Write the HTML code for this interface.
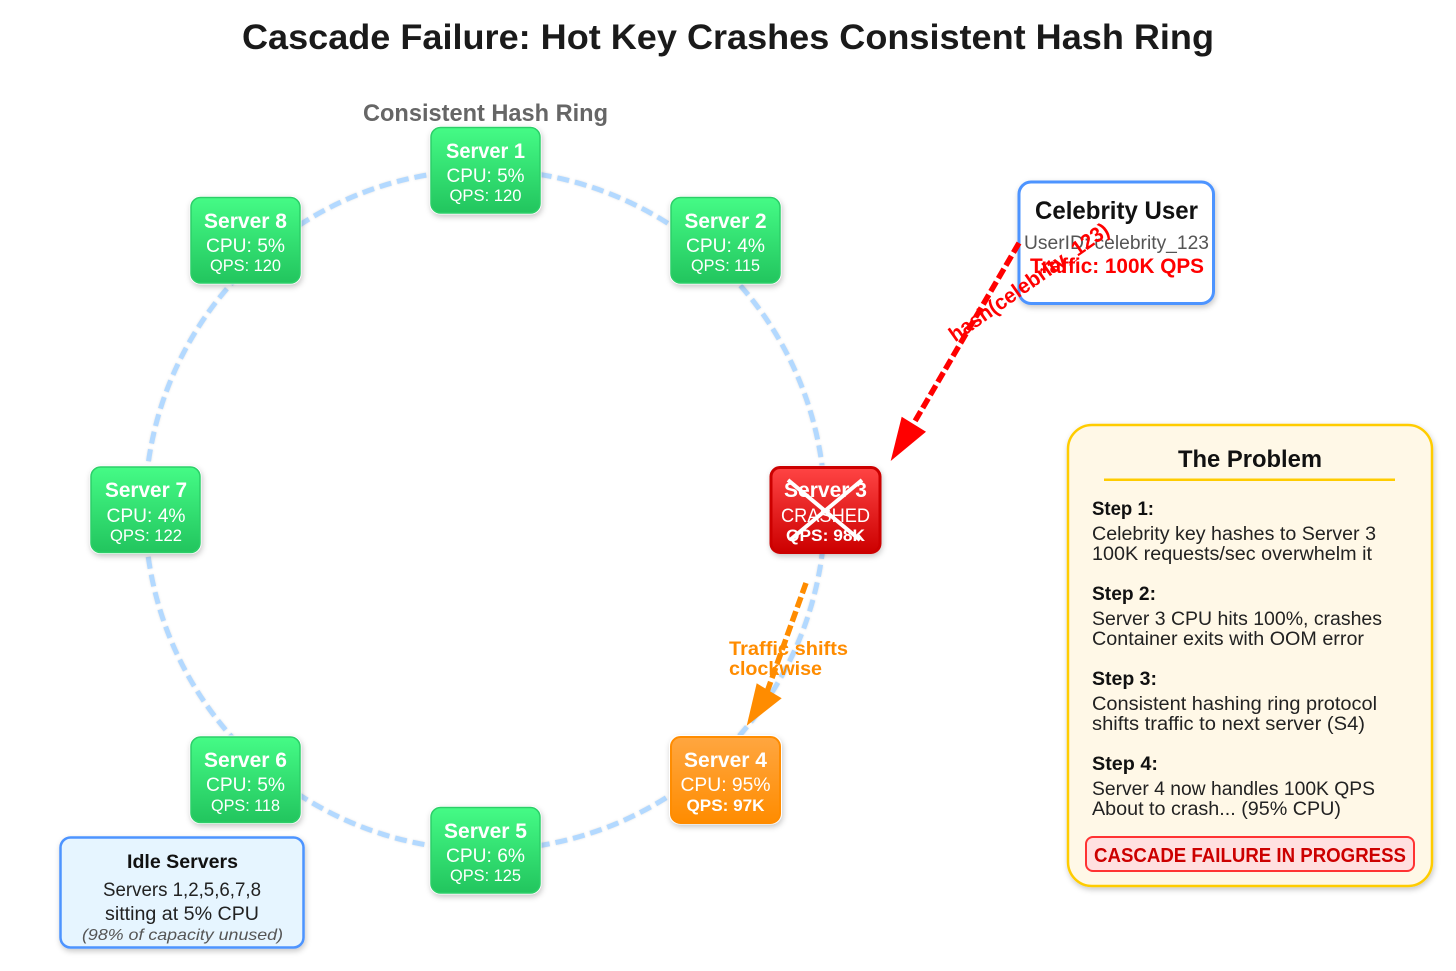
<!DOCTYPE html>
<html lang="en">
<head>
<meta charset="utf-8">
<title>Cascade Failure</title>
<style>
html,body{margin:0;padding:0;background:#fff;width:1456px;height:971px;overflow:hidden}
svg{display:block;font-family:"Liberation Sans",sans-serif}
.t{font-weight:700;font-size:21px;fill:#fff;text-anchor:middle}
.c{font-size:19px;fill:#fff;text-anchor:middle}
.q{font-size:17px;fill:#fff;text-anchor:middle}
.b{font-size:19px;fill:#222}
.h{font-size:19px;font-weight:700;fill:#111}
.box{filter:url(#sh)}
.halo{fill:#fff;filter:url(#sh)}
</style>
</head>
<body>
<svg width="1456" height="971" viewBox="0 0 1456 971" xmlns="http://www.w3.org/2000/svg">
<defs>
<linearGradient id="g" x1="0" y1="0" x2="0" y2="1"><stop offset="0" stop-color="#45fb86"/><stop offset="1" stop-color="#22c55e"/></linearGradient>
<linearGradient id="r" x1="0" y1="0" x2="0" y2="1"><stop offset="0" stop-color="#ff4444"/><stop offset="1" stop-color="#cc0000"/></linearGradient>
<linearGradient id="o" x1="0" y1="0" x2="0" y2="1"><stop offset="0" stop-color="#ffa640"/><stop offset="1" stop-color="#ff8c00"/></linearGradient>
<filter id="sh" x="-20%" y="-20%" width="140%" height="140%"><feDropShadow dx="1" dy="2.500" stdDeviation="3" flood-color="#000" flood-opacity=".22"/></filter>
<filter id="ls" x="-5%" y="-5%" width="110%" height="110%"><feDropShadow dx="0" dy="0" stdDeviation="1" flood-color="#999" flood-opacity=".3"/></filter>
</defs>
<rect width="1456" height="971" fill="#fff"/>

<text x="728" y="49" font-size="35" font-weight="700" fill="#1a1a1a" text-anchor="middle" textLength="972" lengthAdjust="spacingAndGlyphs">Cascade Failure: Hot Key Crashes Consistent Hash Ring</text>
<text x="485.500" y="121" font-size="24" font-weight="700" fill="#666" text-anchor="middle" textLength="245" lengthAdjust="spacingAndGlyphs">Consistent Hash Ring</text>

<circle cx="485" cy="510" r="340" fill="none" stroke="#b3d9ff" stroke-width="5" stroke-dasharray="12 6" stroke-dashoffset="-1" filter="url(#ls)"/>

<!-- Server 1 -->
<g><rect class="halo" x="429.500" y="126" width="112" height="88.500" rx="11"/>
<rect x="431" y="127.500" width="109" height="85.500" rx="9.500" fill="url(#g)" stroke="#2ccf68" stroke-width="1.500"/>
<text class="t" x="485.500" y="158" textLength="79" lengthAdjust="spacingAndGlyphs">Server 1</text>
<text class="c" x="485.500" y="182" textLength="78" lengthAdjust="spacingAndGlyphs">CPU: 5%</text>
<text class="q" x="485.500" y="201" textLength="72" lengthAdjust="spacingAndGlyphs">QPS: 120</text></g>
<!-- Server 2 -->
<g><rect class="halo" x="669.500" y="196" width="112" height="88.500" rx="11"/>
<rect x="671" y="197.500" width="109" height="85.500" rx="9.500" fill="url(#g)" stroke="#2ccf68" stroke-width="1.500"/>
<text class="t" x="725.500" y="228" textLength="82" lengthAdjust="spacingAndGlyphs">Server 2</text>
<text class="c" x="725.500" y="252" textLength="79" lengthAdjust="spacingAndGlyphs">CPU: 4%</text>
<text class="q" x="725.500" y="271" textLength="69" lengthAdjust="spacingAndGlyphs">QPS: 115</text></g>
<!-- Server 3 -->
<g><rect class="halo" x="769.500" y="465.500" width="112" height="88.500" rx="11"/>
<rect x="771" y="467.500" width="109" height="85" rx="9" fill="url(#r)" stroke="#cc0000" stroke-width="3"/>
<text class="t" x="825.500" y="497" textLength="83" lengthAdjust="spacingAndGlyphs">Server 3</text>
<text class="c" x="825.500" y="522" textLength="89" lengthAdjust="spacingAndGlyphs">CRASHED</text>
<text class="q" x="825.500" y="541" font-weight="700" textLength="79" lengthAdjust="spacingAndGlyphs">QPS: 98K</text>
<path d="M788 480 L860 540 M862 480 L790 540" stroke="#fff" stroke-width="4" fill="none"/></g>
<!-- Server 4 -->
<g><rect class="halo" x="669" y="735" width="113" height="89.500" rx="11"/>
<rect x="671" y="737" width="109" height="86" rx="9.500" fill="url(#o)" stroke="#ff8c00" stroke-width="2"/>
<text class="t" x="725.500" y="767" textLength="83" lengthAdjust="spacingAndGlyphs">Server 4</text>
<text class="c" x="725.500" y="791" textLength="90" lengthAdjust="spacingAndGlyphs">CPU: 95%</text>
<text class="q" x="725.500" y="811" font-weight="700" textLength="78" lengthAdjust="spacingAndGlyphs">QPS: 97K</text></g>
<!-- Server 5 -->
<g><rect class="halo" x="429.500" y="806" width="112" height="88.500" rx="11"/>
<rect x="431" y="807.500" width="109" height="85.500" rx="9.500" fill="url(#g)" stroke="#2ccf68" stroke-width="1.500"/>
<text class="t" x="485.500" y="838" textLength="83" lengthAdjust="spacingAndGlyphs">Server 5</text>
<text class="c" x="485.500" y="862" textLength="79" lengthAdjust="spacingAndGlyphs">CPU: 6%</text>
<text class="q" x="485.500" y="881" textLength="71" lengthAdjust="spacingAndGlyphs">QPS: 125</text></g>
<!-- Server 6 -->
<g><rect class="halo" x="189.500" y="735.500" width="112" height="88.500" rx="11"/>
<rect x="191" y="737" width="109" height="85.500" rx="9.500" fill="url(#g)" stroke="#2ccf68" stroke-width="1.500"/>
<text class="t" x="245.500" y="767" textLength="83" lengthAdjust="spacingAndGlyphs">Server 6</text>
<text class="c" x="245.500" y="791" textLength="79" lengthAdjust="spacingAndGlyphs">CPU: 5%</text>
<text class="q" x="245.500" y="811" textLength="69" lengthAdjust="spacingAndGlyphs">QPS: 118</text></g>
<!-- Server 7 -->
<g><rect class="halo" x="89.500" y="465.500" width="112" height="88.500" rx="11"/>
<rect x="91" y="467" width="109" height="85.500" rx="9.500" fill="url(#g)" stroke="#2ccf68" stroke-width="1.500"/>
<text class="t" x="146" y="497" textLength="82" lengthAdjust="spacingAndGlyphs">Server 7</text>
<text class="c" x="146" y="522" textLength="79" lengthAdjust="spacingAndGlyphs">CPU: 4%</text>
<text class="q" x="146" y="541" textLength="72" lengthAdjust="spacingAndGlyphs">QPS: 122</text></g>
<!-- Server 8 -->
<g><rect class="halo" x="189.500" y="196" width="112" height="88.500" rx="11"/>
<rect x="191" y="197.500" width="109" height="85.500" rx="9.500" fill="url(#g)" stroke="#2ccf68" stroke-width="1.500"/>
<text class="t" x="245.500" y="228" textLength="83" lengthAdjust="spacingAndGlyphs">Server 8</text>
<text class="c" x="245.500" y="252" textLength="79" lengthAdjust="spacingAndGlyphs">CPU: 5%</text>
<text class="q" x="245.500" y="271" textLength="71" lengthAdjust="spacingAndGlyphs">QPS: 120</text></g>

<!-- Celebrity -->
<rect class="box" x="1019" y="182" width="194.500" height="121.500" rx="12" fill="#fff" stroke="#4d94ff" stroke-width="3"/>
<text x="1116.500" y="219" font-size="25" font-weight="700" fill="#111" text-anchor="middle" textLength="163" lengthAdjust="spacingAndGlyphs">Celebrity User</text>
<text x="1116.500" y="249" font-size="19" fill="#555" text-anchor="middle" textLength="185" lengthAdjust="spacingAndGlyphs">UserID: celebrity_123</text>
<text x="1117" y="273" font-size="21" font-weight="700" fill="#ff0000" text-anchor="middle" textLength="174" lengthAdjust="spacingAndGlyphs">Traffic: 100K QPS</text>

<!-- Red arrow -->
<line x1="1019" y1="243" x2="911" y2="428" stroke="#ff0000" stroke-width="5.500" stroke-dasharray="11 4"/>
<polygon points="890.700,461 901.700,416.700 926,431.700" fill="#ff0000"/>
<text transform="translate(1033 288) rotate(-35)" font-size="21" font-weight="700" fill="#ff0000" text-anchor="middle" textLength="190" lengthAdjust="spacingAndGlyphs">hash(celebrity_123)</text>

<!-- Orange arrow -->
<line x1="806" y1="583" x2="767" y2="692" stroke="#ff8c00" stroke-width="5.500" stroke-dasharray="11 4"/>
<polygon points="746.700,725.700 756.700,683.300 781.700,698.300" fill="#ff8c00"/>
<text x="729" y="655" font-size="19" font-weight="700" fill="#ff8c00" textLength="119" lengthAdjust="spacingAndGlyphs">Traffic shifts</text>
<text x="729" y="675" font-size="19" font-weight="700" fill="#ff8c00" textLength="93" lengthAdjust="spacingAndGlyphs">clockwise</text>

<!-- Idle Servers -->
<rect class="box" x="60.500" y="837.500" width="243" height="110" rx="10" fill="#e6f5ff" stroke="#4d94ff" stroke-width="2.500"/>
<text x="182.500" y="868" font-size="19" font-weight="700" fill="#111" text-anchor="middle" textLength="111" lengthAdjust="spacingAndGlyphs">Idle Servers</text>
<text x="182" y="896" font-size="19" fill="#222" text-anchor="middle" textLength="158" lengthAdjust="spacingAndGlyphs">Servers 1,2,5,6,7,8</text>
<text x="182" y="920" font-size="19" fill="#222" text-anchor="middle" textLength="154" lengthAdjust="spacingAndGlyphs">sitting at 5% CPU</text>
<text x="182.500" y="940" font-size="16" font-style="italic" fill="#555" text-anchor="middle" textLength="201" lengthAdjust="spacingAndGlyphs">(98% of capacity unused)</text>

<!-- The Problem -->
<rect class="box" x="1068" y="425" width="364" height="461" rx="24" fill="#fff8e7" stroke="#ffcc00" stroke-width="2.500"/>
<text x="1250" y="467" font-size="24" font-weight="700" fill="#111" text-anchor="middle" textLength="144" lengthAdjust="spacingAndGlyphs">The Problem</text>
<rect x="1104" y="478.500" width="291" height="2.500" fill="#ffcc00"/>

<text class="h" x="1092" y="515" textLength="62" lengthAdjust="spacingAndGlyphs">Step 1:</text>
<text class="b" x="1092" y="540" textLength="284" lengthAdjust="spacingAndGlyphs">Celebrity key hashes to Server 3</text>
<text class="b" x="1092" y="560" textLength="280" lengthAdjust="spacingAndGlyphs">100K requests/sec overwhelm it</text>

<text class="h" x="1092" y="600" textLength="64" lengthAdjust="spacingAndGlyphs">Step 2:</text>
<text class="b" x="1092" y="625" textLength="290" lengthAdjust="spacingAndGlyphs">Server 3 CPU hits 100%, crashes</text>
<text class="b" x="1092" y="645" textLength="272" lengthAdjust="spacingAndGlyphs">Container exits with OOM error</text>

<text class="h" x="1092" y="685" textLength="65" lengthAdjust="spacingAndGlyphs">Step 3:</text>
<text class="b" x="1092" y="710" textLength="285" lengthAdjust="spacingAndGlyphs">Consistent hashing ring protocol</text>
<text class="b" x="1092" y="730" textLength="273" lengthAdjust="spacingAndGlyphs">shifts traffic to next server (S4)</text>

<text class="h" x="1092" y="770" textLength="66" lengthAdjust="spacingAndGlyphs">Step 4:</text>
<text class="b" x="1092" y="795" textLength="283" lengthAdjust="spacingAndGlyphs">Server 4 now handles 100K QPS</text>
<text class="b" x="1092" y="815" textLength="249" lengthAdjust="spacingAndGlyphs">About to crash... (95% CPU)</text>

<rect x="1086" y="837" width="328" height="34" rx="7" fill="#ffe0e0" stroke="#ff3333" stroke-width="2"/>
<text x="1250" y="862" font-size="20" font-weight="700" fill="#cc0000" text-anchor="middle" textLength="312" lengthAdjust="spacingAndGlyphs">CASCADE FAILURE IN PROGRESS</text>
</svg>
</body>
</html>
